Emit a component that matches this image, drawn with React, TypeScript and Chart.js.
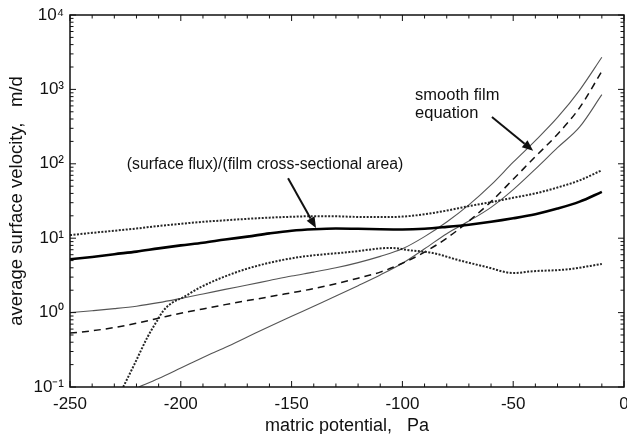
import React, { useEffect, useRef } from "react";
import { Chart, registerables } from "chart.js";

Chart.register(...registerables);

// ---------- data ----------
const xGrid = [-250, -240, -230, -220, -210, -200, -190, -180, -170, -160, -150, -140, -130, -120, -110, -100, -90, -80, -70, -60, -50, -40, -30, -20, -10];

// (surface flux)/(film cross-sectional area): central estimate (thick solid)
const fluxMean = [5.2, 5.6, 6.1, 6.6, 7.3, 8.0, 8.7, 9.6, 10.5, 11.6, 12.6, 13.2, 13.5, 13.4, 13.2, 13.1, 13.4, 14.2, 15.2, 16.6, 18.5, 21, 25, 31, 42];
// upper bound (dotted)
const fluxUpper = [11, 11.8, 12.6, 13.5, 14.6, 15.6, 16.6, 17.4, 18.2, 18.9, 19.4, 19.8, 19.7, 19.3, 19.2, 19.5, 21, 23.5, 27, 30.5, 35, 40, 48, 60, 82];
// lower bound (dotted)
const fluxLowerX = [-226, -221, -215, -211, -208, -204, -199, -191, -176, -161, -146, -124, -105, -97, -86, -75, -62, -50, -41, -26, -10];
const fluxLower = [0.1, 0.2, 0.47, 0.75, 1.05, 1.35, 1.6, 2.2, 3.4, 4.6, 5.6, 6.5, 7.4, 6.9, 6.3, 5.1, 4.1, 3.4, 3.6, 3.8, 4.5];

// smooth film equation: upper (thin), central (dashed), lower (thin)
const filmUpper = [1.0, 1.06, 1.13, 1.22, 1.36, 1.55, 1.78, 2.05, 2.35, 2.7, 3.1, 3.5, 4.0, 4.7, 5.7, 7.2, 10.5, 16.5, 28, 52, 105, 205, 420, 980, 2700];
const filmMid = [0.53, 0.57, 0.63, 0.72, 0.84, 0.98, 1.12, 1.28, 1.45, 1.63, 1.85, 2.1, 2.45, 2.9, 3.5, 4.6, 6.5, 10, 17, 31, 62, 125, 250, 570, 1750];
const filmLowerX = [-219, -210, -200, -190, -180, -170, -160, -150, -140, -130, -120, -110, -100, -90, -80, -70, -60, -50, -40, -30, -20, -10];
const filmLower = [0.1, 0.13, 0.18, 0.25, 0.34, 0.47, 0.65, 0.89, 1.22, 1.67, 2.3, 3.2, 4.6, 7.2, 11.5, 17, 26, 45, 85, 165, 313, 850];

// axes
const xMin = -250;
const xMax = 0;
const xMajorStep = 50;
const xMinorStep = 10;
const yDecades = [0.1, 1, 10, 100, 1000, 10000];
const yTickLabels = ["10\u207B\u00B9", "10\u2070", "10\u00B9", "10\u00B2", "10\u00B3", "10\u2074"];
const xTitle = "matric potential,   Pa";
const yTitle = "average surface velocity,   m/d";

// annotations (data coordinates)
const fluxLabel = "(surface flux)/(film cross-sectional area)";
const fluxLabelAt = [-162, 96];
const fluxArrow = [[-151.6, 64], [-139, 13.7]];
const filmLabel = ["smooth film", "equation"];
const filmLabelAt = [-94.3, 841, 482];
const filmArrow = [[-59.6, 425], [-41, 150]];

const FONT = "'Liberation Sans', Arial, Helvetica, sans-serif";

const pts = (xs: number[], ys: number[]) => xs.map((x, i) => ({ x, y: ys[i] }));

const framePlugin = {
  id: "frameTicks",
  afterDatasetsDraw(chart: any) {
    const { ctx, chartArea: a, scales } = chart;
    const x = scales.x;
    const y = scales.y;
    ctx.save();
    ctx.strokeStyle = "#111";
    ctx.lineWidth = 1.5;
    ctx.strokeRect(a.left, a.top, a.right - a.left, a.bottom - a.top);
    ctx.lineWidth = 1;
    const seg = (x1: number, y1: number, x2: number, y2: number) => {
      ctx.beginPath();
      ctx.moveTo(x1, y1);
      ctx.lineTo(x2, y2);
      ctx.stroke();
    };
    for (let v = xMin; v <= xMax; v += xMinorStep) {
      const px = x.getPixelForValue(v);
      const len = v % xMajorStep === 0 ? 6 : 3.5;
      seg(px, a.bottom, px, a.bottom - len);
      seg(px, a.top, px, a.top + len);
    }
    for (let d = 0; d < yDecades.length; d++) {
      const base = yDecades[d];
      const kmax = d === yDecades.length - 1 ? 1 : 9;
      for (let k = 1; k <= kmax; k++) {
        const py = y.getPixelForValue(base * k);
        const len = k === 1 ? 6 : 3.5;
        seg(a.left, py, a.left + len, py);
        seg(a.right, py, a.right - len, py);
      }
    }
    ctx.restore();
  },
};

const annotationPlugin = {
  id: "annotations",
  afterDatasetsDraw(chart: any) {
    const { ctx, scales } = chart;
    const x = scales.x;
    const y = scales.y;
    const P = (p: number[]) => [x.getPixelForValue(p[0]), y.getPixelForValue(p[1])];
    ctx.save();
    ctx.fillStyle = "#111";
    ctx.font = `15.8px ${FONT}`;
    ctx.textBaseline = "middle";
    ctx.textAlign = "center";
    const [lx, ly] = P(fluxLabelAt);
    ctx.fillText(fluxLabel, lx, ly);
    ctx.font = `16.5px ${FONT}`;
    ctx.textAlign = "left";
    const fx = x.getPixelForValue(filmLabelAt[0]);
    ctx.fillText(filmLabel[0], fx, y.getPixelForValue(filmLabelAt[1]));
    ctx.fillText(filmLabel[1], fx, y.getPixelForValue(filmLabelAt[2]));

    const arrow = (from: number[], to: number[]) => {
      const [x1, y1] = P(from);
      const [x2, y2] = P(to);
      const ang = Math.atan2(y2 - y1, x2 - x1);
      const hl = 11;
      const hw = 4.5;
      const bx = x2 - hl * Math.cos(ang);
      const by = y2 - hl * Math.sin(ang);
      ctx.strokeStyle = "#111";
      ctx.lineWidth = 2;
      ctx.beginPath();
      ctx.moveTo(x1, y1);
      ctx.lineTo(bx, by);
      ctx.stroke();
      ctx.beginPath();
      ctx.moveTo(x2, y2);
      ctx.lineTo(bx + hw * Math.sin(ang), by - hw * Math.cos(ang));
      ctx.lineTo(bx - hw * Math.sin(ang), by + hw * Math.cos(ang));
      ctx.closePath();
      ctx.fill();
    };
    arrow(fluxArrow[0], fluxArrow[1]);
    arrow(filmArrow[0], filmArrow[1]);
    ctx.restore();
  },
};

export default function App() {
  const ref = useRef<HTMLCanvasElement | null>(null);

  useEffect(() => {
    if (!ref.current) return;
    const common = { pointRadius: 0, fill: false, cubicInterpolationMode: "monotone" as const };
    const chart = new Chart(ref.current, {
      type: "line",
      data: {
        datasets: [
          { ...common, label: "flux upper", data: pts(xGrid, fluxUpper), borderColor: "#262626", borderWidth: 2, borderDash: [2, 1.5] },
          { ...common, label: "flux mean", data: pts(xGrid, fluxMean), borderColor: "#000", borderWidth: 2.6 },
          { ...common, label: "flux lower", data: pts(fluxLowerX, fluxLower), borderColor: "#262626", borderWidth: 2, borderDash: [2, 1.5] },
          { ...common, label: "film upper", data: pts(xGrid, filmUpper), borderColor: "#555", borderWidth: 1.1 },
          { ...common, label: "film mid", data: pts(xGrid, filmMid), borderColor: "#111", borderWidth: 1.5, borderDash: [7, 5] },
          { ...common, label: "film lower", data: pts(filmLowerX, filmLower), borderColor: "#555", borderWidth: 1.1 },
        ],
      },
      options: {
        responsive: false,
        animation: false,
        layout: { padding: { top: 15, right: 3, left: 0, bottom: 0 } },
        plugins: { legend: { display: false }, tooltip: { enabled: false } },
        scales: {
          x: {
            type: "linear",
            min: xMin,
            max: xMax,
            grid: { display: false, drawTicks: false },
            border: { display: false },
            ticks: { stepSize: xMajorStep, color: "#111", font: { family: FONT, size: 17 }, padding: 7, maxRotation: 0 },
            title: { display: true, text: xTitle, color: "#111", font: { family: FONT, size: 18, lineHeight: 1 }, padding: { top: 0, bottom: -1 } },
            afterFit(scale: any) {
              scale.height = 47;
              scale.paddingLeft = 0;
              scale.paddingRight = 0;
            },
          },
          y: {
            type: "logarithmic",
            min: yDecades[0],
            max: yDecades[yDecades.length - 1],
            grid: { display: false, drawTicks: false },
            border: { display: false },
            afterBuildTicks(scale: any) {
              scale.ticks = yDecades.map((v) => ({ value: v, major: true }));
            },
            ticks: {
              autoSkip: false,
              color: "#111",
              font: { family: FONT, size: 17 },
              padding: 6,
              callback: (v: any) => {
                const i = yDecades.findIndex((d) => Math.abs(d - Number(v)) / d < 1e-6);
                return i >= 0 ? yTickLabels[i] : "";
              },
            },
            title: { display: true, text: yTitle, color: "#111", font: { family: FONT, size: 18.5, lineHeight: 1 }, padding: { top: 8, bottom: 0 } },
            afterFit(scale: any) {
              scale.width = 70;
              scale.paddingTop = 0;
              scale.paddingBottom = 0;
            },
          },
        },
      },
      plugins: [framePlugin, annotationPlugin],
    });
    return () => chart.destroy();
  }, []);

  return (
    <div style={{ position: "fixed", left: 0, top: 0, width: 627, height: 434, background: "#fff" }}>
      <canvas ref={ref} width={627} height={434} style={{ display: "block" }} />
    </div>
  );
}
